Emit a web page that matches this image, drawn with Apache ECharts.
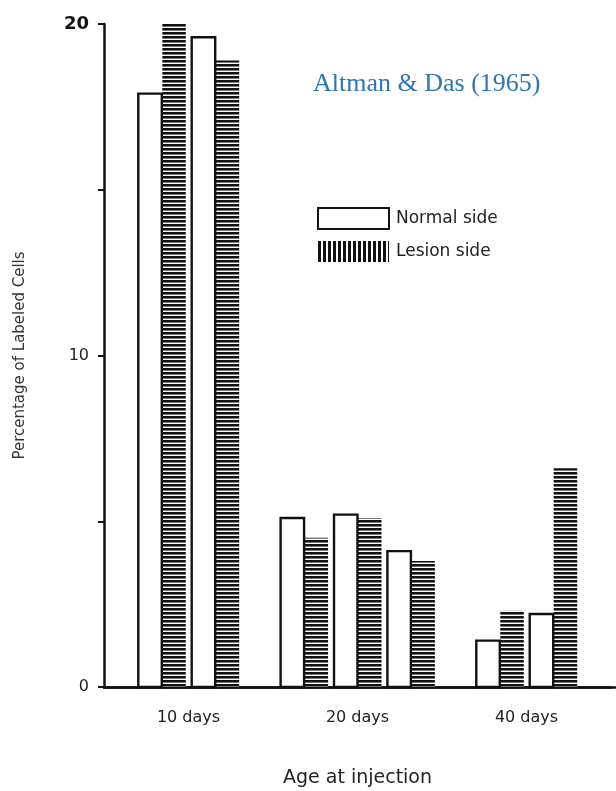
<!DOCTYPE html>
<html>
<head>
<meta charset="utf-8">
<script src="https://cdn.jsdelivr.net/npm/echarts@6/dist/echarts.min.js"></script>
<style>
html,body{margin:0;padding:0;background:#fff;}
#chart{width:616px;height:791px;}
</style>
</head>
<body>
<div id="chart"></div>
<script>
// ---- data ----
const categories = ['10 days', '20 days', '40 days'];
const normalSide = [[17.9, 19.6], [5.1, 5.2, 4.1], [1.4, 2.2]];
const lesionSide = [[20.0, 18.9], [4.5, 5.1, 3.8], [2.3, 6.6]];
const yLabelValues = [0, 10, 20];
const seriesNames = ['Normal side', 'Lesion side'];
const titleText = 'Altman & Das (1965)';
const xTitle = 'Age at injection';
const yTitle = 'Percentage of Labeled Cells';

// ---- patterns ----
function makePattern(w, h, draw) {
  const c = document.createElement('canvas');
  c.width = w; c.height = h;
  const ctx = c.getContext('2d');
  ctx.fillStyle = '#fff'; ctx.fillRect(0, 0, w, h);
  draw(ctx);
  return { image: c, repeat: 'repeat' };
}
const hStripes = makePattern(8, 4, ctx => {
  ctx.fillStyle = '#111'; ctx.fillRect(0, 0, 8, 2);
  ctx.fillStyle = '#777'; ctx.fillRect(0, 2, 8, 1);
});
const vStripes = makePattern(5, 8, ctx => {
  ctx.fillStyle = '#111'; ctx.fillRect(0, 0, 3, 8);
});

function buildData(arr) {
  const out = [];
  arr.forEach((vals, ci) => vals.forEach((v, k) => out.push([ci, k, v, vals.length])));
  return out;
}

function makeRender(isLesion) {
  return function (params, api) {
    const ci = api.value(0), k = api.value(1), v = api.value(2), n = api.value(3);
    const base = api.coord([ci, 0]);
    const top = api.coord([ci, v]);
    const band = api.size([1, 0])[0];
    const barW = band * 0.139;
    const pitch = band * 0.316;
    const pairCenter = base[0] + (k - (n - 1) / 2) * pitch;
    const x = isLesion ? pairCenter + 0.5 : pairCenter - barW;
    const style = isLesion
      ? { fill: hStripes, stroke: null }
      : { fill: '#fff', stroke: '#111', lineWidth: 2.4 };
    return {
      type: 'rect',
      shape: { x: x, y: top[1], width: barW, height: base[1] - top[1] },
      style: style
    };
  };
}

const chart = echarts.init(document.getElementById('chart'), null, { renderer: 'canvas' });
const font = 'DejaVu Sans';
chart.setOption({
  animation: false,
  backgroundColor: '#fff',
  title: {
    text: titleText,
    left: 313, top: 71, padding: 0,
    textStyle: { fontFamily: 'Liberation Serif', fontSize: 26, fontWeight: 'normal', color: '#2e75b6' }
  },
  legend: {
    orient: 'vertical',
    left: 317, top: 207, padding: 0,
    itemWidth: 71, itemHeight: 21, itemGap: 11,
    textStyle: { fontFamily: font, fontSize: 17, color: '#222', padding: [8, 0, 0, 2] },
    data: [
      { name: seriesNames[0], icon: 'rect', itemStyle: { color: '#fff', borderColor: '#111', borderWidth: 2 } },
      { name: seriesNames[1], icon: 'rect', itemStyle: { color: vStripes, borderWidth: 0 } }
    ],
    selectedMode: false
  },
  grid: [
    { left: 104, right: 5, top: 24, bottom: 104, outerBoundsMode: 'none', containLabel: false },
    { left: 104, right: 0, top: 24, bottom: 104, outerBoundsMode: 'none', containLabel: false }
  ],
  xAxis: [
    {
      type: 'category', gridIndex: 0, data: categories,
      axisLine: { show: true, lineStyle: { color: '#111', width: 2.5 } },
      axisTick: { show: false },
      axisLabel: { margin: 23, fontFamily: font, fontSize: 16, color: '#222' },
      name: xTitle, nameLocation: 'middle', nameGap: 82,
      nameTextStyle: { fontFamily: font, fontSize: 19, color: '#222' }
    },
    {
      type: 'value', gridIndex: 1, min: 0, max: 1,
      axisLine: { show: true, onZero: false, lineStyle: { color: '#111', width: 2.5 } },
      axisTick: { show: false }, axisLabel: { show: false }, splitLine: { show: false }
    }
  ],
  yAxis: [
    {
      type: 'value', gridIndex: 0, min: 0, max: 20, interval: 5,
      axisLine: { show: true, lineStyle: { color: '#111', width: 2.5 } },
      axisTick: { show: true, length: 6, lineStyle: { color: '#111', width: 2 } },
      splitLine: { show: false },
      axisLabel: {
        margin: 15, fontFamily: font, fontSize: 16, color: '#222',
        formatter: v => (yLabelValues.indexOf(v) < 0 ? '' : (v === 20 ? '{b|20}' : String(v))),
        rich: { b: { fontFamily: font, fontSize: 18, fontWeight: 'bold', color: '#111' } }
      },
      name: yTitle, nameLocation: 'middle', nameGap: 76,
      nameTextStyle: { fontFamily: font, fontSize: 15, color: '#333' }
    },
    { type: 'value', gridIndex: 1, show: false, min: 0, max: 1 }
  ],
  series: [
    {
      type: 'custom', name: seriesNames[0], xAxisIndex: 0, yAxisIndex: 0,
      data: buildData(normalSide), encode: { x: 0, y: 2 },
      itemStyle: { color: '#fff', borderColor: '#111', borderWidth: 2 },
      renderItem: makeRender(false), z: 3
    },
    {
      type: 'custom', name: seriesNames[1], xAxisIndex: 0, yAxisIndex: 0,
      data: buildData(lesionSide), encode: { x: 0, y: 2 },
      itemStyle: { color: hStripes },
      renderItem: makeRender(true), z: 2
    }
  ]
});
</script>
</body>
</html>
